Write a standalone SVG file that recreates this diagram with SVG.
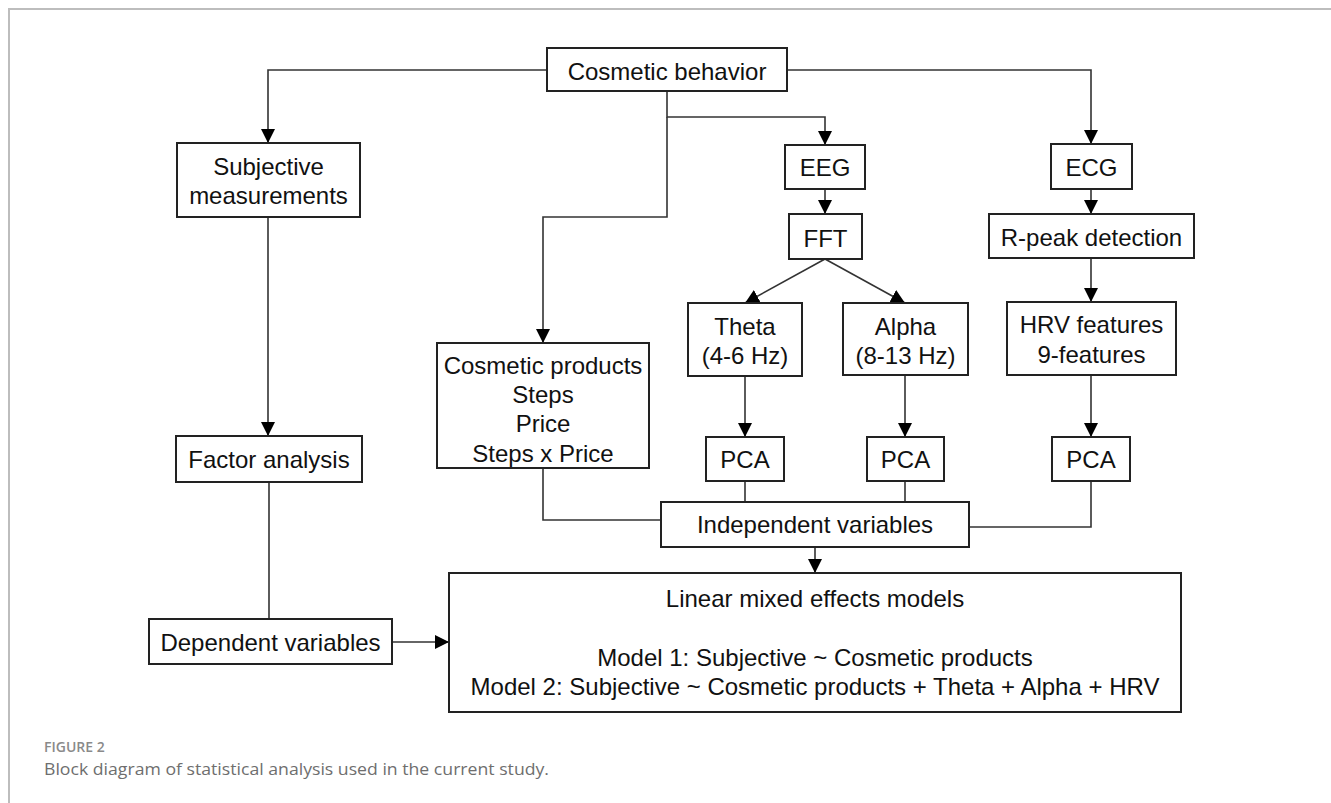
<svg xmlns="http://www.w3.org/2000/svg" width="1331" height="803" viewBox="0 0 1331 803">
<style>
.box{fill:#fff;stroke:#222;stroke-width:2}
.t{font-family:"Liberation Sans",Arial,sans-serif;font-size:24px;fill:#111;text-anchor:middle}
.c{fill:none;stroke:#333;stroke-width:1.6}
.frame{fill:none;stroke:#bdbdbd;stroke-width:2}
</style>
<defs>
<marker id="ah" viewBox="0 0 14 14" refX="14" refY="7" markerWidth="14" markerHeight="14" markerUnits="userSpaceOnUse" orient="auto">
<path d="M0,0 L14,7 L0,14 Z" fill="#000"/>
</marker>
</defs>
<path class="frame" d="M9,803 V9 H1331"/>
<g id="connectors">
<path class="c" d="M547,70 H268 V143" marker-end="url(#ah)"/>
<path class="c" d="M787,70 H1091 V144" marker-end="url(#ah)"/>
<path class="c" d="M667,91 V117 H825 V145" marker-end="url(#ah)"/>
<path class="c" d="M667,117 V217 H543 V343" marker-end="url(#ah)"/>
<path class="c" d="M825,189 V214" marker-end="url(#ah)"/>
<path class="c" d="M825,259 L745,303" marker-end="url(#ah)"/>
<path class="c" d="M825,259 L905,303" marker-end="url(#ah)"/>
<path class="c" d="M745,376 V437" marker-end="url(#ah)"/>
<path class="c" d="M905,375 V437" marker-end="url(#ah)"/>
<path class="c" d="M1091,189 V214" marker-end="url(#ah)"/>
<path class="c" d="M1091,258 V302" marker-end="url(#ah)"/>
<path class="c" d="M1091,375 V437" marker-end="url(#ah)"/>
<path class="c" d="M268,217 V436" marker-end="url(#ah)"/>
<path class="c" d="M269,482 V619"/>
<path class="c" d="M543,468 V520 H661"/>
<path class="c" d="M745,481 V502"/>
<path class="c" d="M905,481 V502"/>
<path class="c" d="M1091,481 V527 H969"/>
<path class="c" d="M815,547 V573" marker-end="url(#ah)"/>
<path class="c" d="M392,642 H449" marker-end="url(#ah)"/>
</g>
<g id="cosmetic-behavior"><rect class="box" x="547" y="48" width="240" height="43"/><text class="t" x="667" y="80">Cosmetic behavior</text></g>
<g id="subjective"><rect class="box" x="177" y="143" width="183" height="74"/><text class="t" x="268.5" y="175">Subjective</text><text class="t" x="268.5" y="204">measurements</text></g>
<g id="eeg"><rect class="box" x="785" y="145" width="80" height="44"/><text class="t" x="825" y="176">EEG</text></g>
<g id="fft"><rect class="box" x="789" y="214" width="73" height="45"/><text class="t" x="825.5" y="247">FFT</text></g>
<g id="ecg"><rect class="box" x="1051" y="144" width="81" height="45"/><text class="t" x="1091.5" y="176">ECG</text></g>
<g id="rpeak"><rect class="box" x="989" y="214" width="205" height="44"/><text class="t" x="1091.5" y="246">R-peak detection</text></g>
<g id="cosmetic-products"><rect class="box" x="437" y="343" width="212" height="125"/><text class="t" x="543" y="374">Cosmetic products</text><text class="t" x="543" y="403">Steps</text><text class="t" x="543" y="432">Price</text><text class="t" x="543" y="462">Steps x Price</text></g>
<g id="theta"><rect class="box" x="688" y="303" width="114" height="73"/><text class="t" x="745" y="335">Theta</text><text class="t" x="745" y="364">(4-6 Hz)</text></g>
<g id="alpha"><rect class="box" x="843" y="303" width="125" height="72"/><text class="t" x="905.5" y="335">Alpha</text><text class="t" x="905.5" y="364">(8-13 Hz)</text></g>
<g id="hrv"><rect class="box" x="1007" y="302" width="169" height="73"/><text class="t" x="1091.5" y="333">HRV features</text><text class="t" x="1091.5" y="363">9-features</text></g>
<g id="factor"><rect class="box" x="176" y="436" width="186" height="46"/><text class="t" x="269" y="468">Factor analysis</text></g>
<g id="pca-theta"><rect class="box" x="706" y="437" width="78" height="44"/><text class="t" x="745" y="468">PCA</text></g>
<g id="pca-alpha"><rect class="box" x="867" y="437" width="77" height="44"/><text class="t" x="905.5" y="468">PCA</text></g>
<g id="pca-hrv"><rect class="box" x="1052" y="437" width="78" height="44"/><text class="t" x="1091" y="468">PCA</text></g>
<g id="independent"><rect class="box" x="661" y="502" width="308" height="45"/><text class="t" x="815" y="533">Independent variables</text></g>
<g id="dependent"><rect class="box" x="149" y="619" width="243" height="45"/><text class="t" x="270.5" y="651">Dependent variables</text></g>
<g id="lme"><rect class="box" x="449" y="573" width="732" height="139"/><text class="t" x="815" y="607">Linear mixed effects models</text><text class="t" x="815" y="666">Model 1: Subjective ~ Cosmetic products</text><text class="t" x="815" y="695">Model 2: Subjective ~ Cosmetic products + Theta + Alpha + HRV</text></g>
<g id="caption">
<text x="44" y="752" font-family="'Open Sans',sans-serif" font-size="14" font-weight="600" fill="#8a8a8a">FIGURE 2</text>
<text x="44" y="775" font-family="'Open Sans',sans-serif" font-size="17" fill="#6e6e6e" textLength="505" lengthAdjust="spacingAndGlyphs">Block diagram of statistical analysis used in the current study.</text>
</g>
</svg>
